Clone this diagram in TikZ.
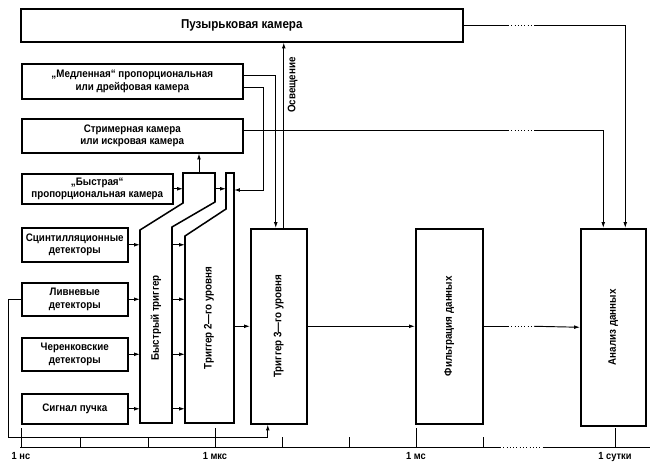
\documentclass[tikz,border=0pt]{standalone}
\usepackage{fontspec}
\setmainfont[FakeStretch=0.9]{Liberation Sans}
\usetikzlibrary{arrows.meta, calc}

\def\px{0.03cm}
\tikzset{
  box/.style={draw, line width=1.3pt, inner sep=1pt, align=center, anchor=north west,
    font=\bfseries\fontsize{9.3}{10.5}\selectfont},
  frame/.style={line width=1.3pt, line join=miter},
  conn/.style={line width=0.8pt},
  arr/.style={conn, -{Latex[length=5pt,width=3.2pt]}},
  vlabel/.style={rotate=90, font=\bfseries\fontsize{9.3}{10.5}\selectfont},
  ticklabel/.style={below, inner sep=1pt, font=\bfseries\fontsize{8.8}{10}\selectfont},
}

\begin{document}
\begin{tikzpicture}[x=\px, y=-\px]
\useasboundingbox (0,0) rectangle (650,467);

% chambers and detectors
\node[box, minimum width=442*\px, minimum height=33*\px, font=\bfseries\fontsize{11}{12}\selectfont] (bubble) at (20,8) {Пузырьковая камера};
\node[box, minimum width=221*\px, minimum height=35*\px] (slow) at (21,63) {„Медленная“ пропорциональная\\или дрейфовая камера};
\node[box, minimum width=221*\px, minimum height=34*\px] (streamer) at (21,118) {Стримерная камера\\или искровая камера};
\node[box, minimum width=151*\px, minimum height=30*\px] (fastprop) at (21,173) {„Быстрая“\\пропорциональная камера};
\node[box, minimum width=106*\px, minimum height=34*\px] (scint) at (21,227) {Сцинтилляционные\\детекторы};
\node[box, minimum width=106*\px, minimum height=33*\px] (shower) at (21,282) {Ливневые\\детекторы};
\node[box, minimum width=106*\px, minimum height=33*\px] (cher) at (21,337) {Черенковские\\детекторы};
\node[box, minimum width=106*\px, minimum height=30*\px] (beam) at (21,393) {Сигнал пучка};

% trigger levels
\coordinate (fast-l) at (140,423);
\coordinate (fast-r) at (172,423);
\coordinate (fast-tl) at (183,173);
\coordinate (fast-tr) at (215,173);
\coordinate (fast-top) at (199,173);
\coordinate (t2-l) at (185,423);
\coordinate (strip-l) at (226,173);
\coordinate (t2-r) at (234,423);
\draw[frame] (140,423) -- (140,230) -- (183,203) -- (183,173) -- (215,173) -- (215,202)
  -- (172,227) -- (172,423) -- cycle;
\draw[frame] (185,423) -- (185,236) -- (226,209) -- (226,173) -- (234,173) -- (234,423) -- cycle;
\node[vlabel] (fast-txt) at (156,318) {Быстрый триггер};
\node[vlabel] (t2-txt) at (209,318) {Триггер 2—го уровня};
\node[box, minimum width=56*\px, minimum height=195*\px] (trig3) at (250,228) {\rotatebox{90}{Триггер 3—го уровня}};
\node[box, minimum width=67*\px, minimum height=195*\px] (filt) at (415,228) {\rotatebox{90}{Фильтрация данных}};
\node[box, minimum width=65*\px, minimum height=197*\px] (anal) at (580,228) {\rotatebox{90}{Анализ данных}};

% detectors to triggers
\foreach \det in {scint, shower, cher, beam} {
  \draw[arr] (\det.east) -- (\det.east -| fast-l);
  \draw[arr] (\det.east -| fast-r) -- (\det.east -| t2-l);
}
\draw[arr] (fastprop.east) -- (fastprop.east -| fast-tl);
\draw[arr] (fastprop.east -| fast-tr) -- (fastprop.east -| strip-l);
\draw[arr] (fast-top) -- (fast-top |- streamer.south);

% slow chamber readout
\coordinate (slow-bend) at (263,190);
\draw[arr] ([yshift=6*\px]slow.east) -| ([xshift=-3*\px]trig3.north);
\draw[arr] ([yshift=-6*\px]slow.east) -| (slow-bend) -- (slow-bend -| t2-r);
\draw[arr] ([xshift=5*\px]trig3.north) -- ([xshift=5*\px]trig3.north |- bubble.south)
  node[pos=0.77, rotate=90, anchor=north, inner sep=3pt, font=\bfseries\fontsize{9.3}{10.5}\selectfont] (light) {Освещение};

% data flow
\coordinate (gap-l) at (508,0);
\coordinate (gap-r) at (534,0);
\draw[arr] (trig3.east -| t2-r) -- (trig3.west);
\draw[arr] (trig3.east) -- (filt.west);
\draw[conn] (filt.east) -- (filt.east -| gap-l);
\draw[conn, dotted] (filt.east -| gap-l) -- (filt.east -| gap-r);
\draw[arr] (filt.east -| gap-r) -- (anal.west);
\draw[conn] (bubble.east) -- (bubble.east -| gap-l);
\draw[conn, dotted] (bubble.east -| gap-l) -- (bubble.east -| gap-r);
\draw[arr] (bubble.east -| gap-r) -| ([xshift=12*\px]anal.north);
\draw[conn] ([yshift=5*\px]streamer.east) -- ([yshift=5*\px]streamer.east -| gap-l);
\draw[conn, dotted] ([yshift=5*\px]streamer.east -| gap-l) -- ([yshift=5*\px]streamer.east -| gap-r);
\draw[arr] ([yshift=5*\px]streamer.east -| gap-r) -| ([xshift=-10*\px]anal.north);

% beam signal to level 3
\coordinate (fb-low) at (8,437);
\draw[arr] (shower.west) -| (fb-low) -| ([xshift=-11*\px]trig3.south);

% time scale
\draw[conn] (20,447) -- (500,447);
\draw[conn, dotted] (500,447) -- (543,447);
\draw[conn] (543,447) -- (650,447);
\foreach \x in {80, 148, 282, 349, 483}
  \draw[conn] (\x,437) -- (\x,447);
\foreach \x/\lbl in {21/1 нс, 215/1 мкс, 416/1 мс, 615/1 сутки} {
  \draw[conn] (\x,428) -- (\x,447);
  \node[ticklabel] (tick-\x) at (\x,451) {\lbl};
}
\end{tikzpicture}
\end{document}
